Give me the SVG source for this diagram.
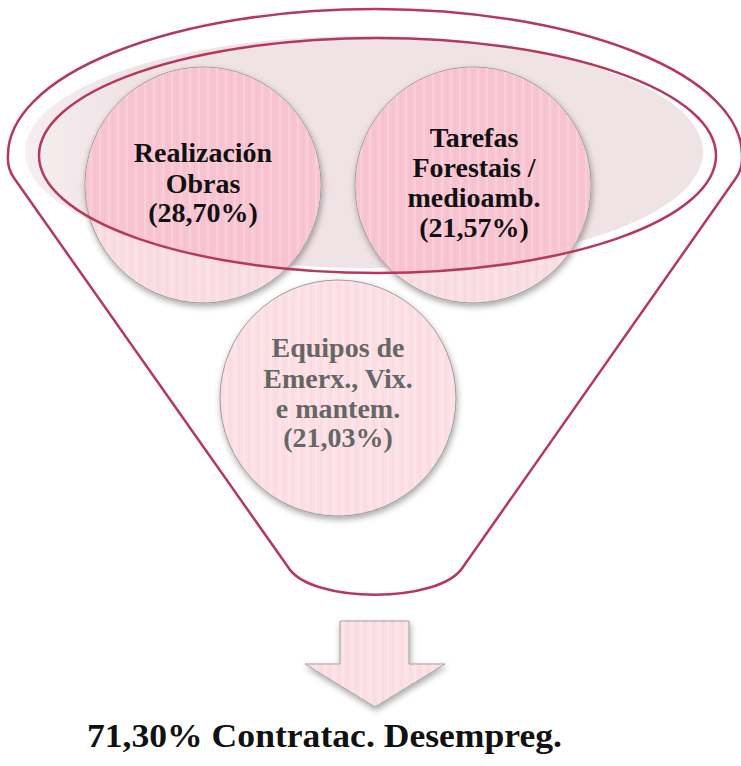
<svg xmlns="http://www.w3.org/2000/svg" width="741" height="766" viewBox="0 0 741 766">
  <style>
    .funnel-line { fill: none; stroke: #b63861; stroke-width: 2.5; }
    .circle { stroke: #9c9c9c; stroke-width: 1; }
    .lbl { font-family: "Liberation Serif", "Times New Roman", serif; font-weight: bold; font-size: 28px; text-anchor: middle; }
    .dark { fill: #111111; }
    .grey { fill: #666666; }
  </style>
  <defs>
    <filter id="shadow" x="-20%" y="-20%" width="140%" height="150%">
      <feDropShadow dx="1" dy="3" stdDeviation="3" flood-color="#000000" flood-opacity="0.35"/>
    </filter>
    <linearGradient id="bowlFill" x1="0" y1="0" x2="1" y2="0">
      <stop offset="0" stop-color="#f6eef0"/>
      <stop offset="0.15" stop-color="#efe3e6"/>
      <stop offset="1" stop-color="#efe3e6"/>
    </linearGradient>
    <pattern id="stripes" width="9" height="10" patternUnits="userSpaceOnUse">
      <rect x="0" y="0" width="2" height="10" fill="#ffffff" fill-opacity="0.18"/>
      <rect x="5" y="0" width="1" height="10" fill="#c07890" fill-opacity="0.06"/>
    </pattern>
    <clipPath id="bowlClip">
      <ellipse cx="377.5" cy="155.5" rx="338.5" ry="117.5"/>
    </clipPath>
  </defs>

  <!-- Funnel body -->
  <g id="funnel">
    <path class="funnel-line" d="M 288,567 L 14,178 Q 7,168 8,155 A 367 146 0 0 1 742,155 Q 743,168 736,178 L 463,567 C 440,604 310,604 288,567 Z"/>
    <ellipse cx="364" cy="152" rx="339" ry="116" fill="url(#bowlFill)"/>
  </g>

  <!-- Nodes -->
  <g id="node-realizacion">
    <circle class="circle" cx="203" cy="185" r="118" fill="#fadce3" filter="url(#shadow)"/>
    <circle cx="203" cy="185" r="117.5" fill="#f8c4d1" clip-path="url(#bowlClip)"/>
    <circle cx="203" cy="185" r="117.5" fill="url(#stripes)"/>
  </g>
  <g id="node-tarefas">
    <circle class="circle" cx="473" cy="185" r="118" fill="#fadce3" filter="url(#shadow)"/>
    <circle cx="473" cy="185" r="117.5" fill="#f8c4d1" clip-path="url(#bowlClip)"/>
    <circle cx="473" cy="185" r="117.5" fill="url(#stripes)"/>
  </g>
  <g id="node-equipos">
    <circle class="circle" cx="338" cy="398" r="118" fill="#fcdfe5" filter="url(#shadow)"/>
    <circle cx="338" cy="398" r="117.5" fill="url(#stripes)"/>
    <text class="lbl grey" x="338" y="357">Equipos de</text>
    <text class="lbl grey" x="338" y="388">Emerx., Vix.</text>
    <text class="lbl grey" x="338" y="418">e mantem.</text>
    <text class="lbl grey" x="338" y="447">(21,03%)</text>
  </g>

  <!-- Bowl rim outline drawn over the top circles -->
  <g id="bowl-rim">
    <ellipse class="funnel-line" cx="377.5" cy="155.5" rx="338.5" ry="117.5"/>
  </g>

  <g id="labels-top">
    <text class="lbl dark" x="203" y="162">Realización</text>
    <text class="lbl dark" x="203" y="193">Obras</text>
    <text class="lbl dark" x="203" y="222">(28,70%)</text>
    <text class="lbl dark" x="474" y="147">Tarefas</text>
    <text class="lbl dark" x="474" y="177">Forestais /</text>
    <text class="lbl dark" x="474" y="207">medioamb.</text>
    <text class="lbl dark" x="474" y="237">(21,57%)</text>
  </g>

  <!-- Connectors -->
  <g id="connectors">
    <path d="M 340,621 H 409 V 664 H 445 L 375,707 L 305,664 H 340 Z" fill="#fcdfe5" stroke="#a0a0a0" stroke-width="1" filter="url(#shadow)"/>
    <path d="M 340,621 H 409 V 664 H 445 L 375,707 L 305,664 H 340 Z" fill="url(#stripes)"/>
  </g>

  <g id="result">
    <text x="87" y="747" font-family="'Liberation Serif', 'Times New Roman', serif" font-weight="bold" font-size="34" fill="#111111" textLength="475" lengthAdjust="spacingAndGlyphs">71,30% Contratac. Desempreg.</text>
  </g>
</svg>
